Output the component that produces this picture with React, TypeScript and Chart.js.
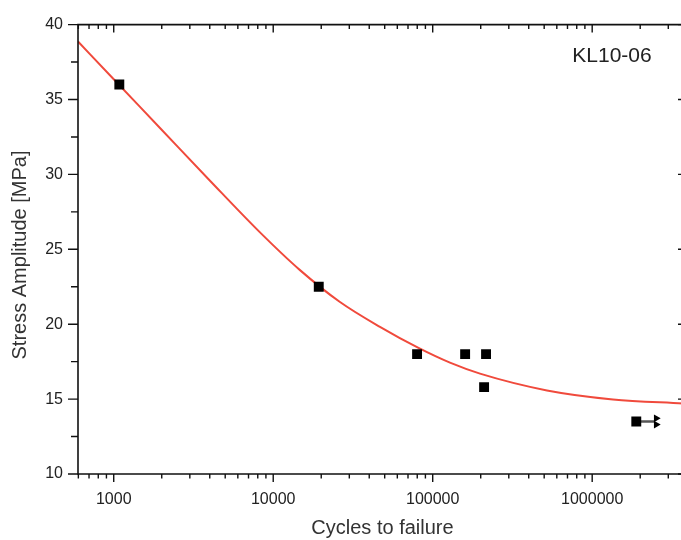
import React, { useEffect, useRef } from "react";
import { Chart, registerables } from "chart.js";

Chart.register(...registerables);

// Failure data (cycles, stress amplitude MPa)
const failureCycles = [1084, 19300, 79800, 159700, 216000, 210000, 1890000];
const failureStress = [36.0, 22.5, 18.0, 18.0, 18.0, 15.8, 13.5];

// Run-out markers
const runoutCycles = [2520000, 2520000];
const runoutStress = [13.72, 13.3];
const runoutLinkCycles = [1890000, 2450000];
const runoutLinkStress = [13.5, 13.5];

// Fitted curve samples
const curveCycles = [597, 1000, 1950, 4014, 8262, 14720, 26220, 46700, 80870, 128300, 197900, 520500, 1350000, 3710000];
const curveStress = [38.87, 36.35, 33.1, 29.58, 26.13, 23.61, 21.48, 19.82, 18.43, 17.43, 16.7, 15.58, 14.98, 14.71];

const xTickValues = [1000, 10000, 100000, 1000000];
const yTickValues = [10, 15, 20, 25, 30, 35, 40];

const xMin = 597;
const xMax = 3710000;
const yMin = 10;
const yMax = 40;

const specimenLabel = "KL10-06";
const xTitle = "Cycles to failure";
const yTitle = "Stress Amplitude [MPa]";

const FONT = "'Liberation Sans', Arial, sans-serif";

const framePlugin = {
  id: "frame",
  afterDraw(chart: any) {
    const ctx = chart.ctx;
    const { left, right, top, bottom } = chart.chartArea;
    const xs = chart.scales.x;
    const ys = chart.scales.y;
    ctx.save();
    ctx.strokeStyle = "#111";
    ctx.lineWidth = 1.6;
    ctx.beginPath();
    ctx.rect(left, top, right - left, bottom - top);
    ctx.stroke();

    ctx.lineWidth = 1.4;
    ctx.beginPath();
    for (let e = 2; e <= 7; e++) {
      for (let m = 1; m <= 9; m++) {
        const v = m * Math.pow(10, e);
        if (v < xMin || v > xMax) continue;
        const px = xs.getPixelForValue(v);
        const len = m === 1 ? 8 : 4.5;
        ctx.moveTo(px, bottom);
        ctx.lineTo(px, bottom + len);
        ctx.moveTo(px, top);
        ctx.lineTo(px, top + len);
      }
    }
    for (let v = yMin; v <= yMax; v += 2.5) {
      const py = ys.getPixelForValue(v);
      const major = Math.abs(v % 5) < 1e-6;
      ctx.moveTo(left, py);
      ctx.lineTo(left - (major ? 10 : 7), py);
      if (major) {
        ctx.moveTo(right, py);
        ctx.lineTo(right - 5, py);
      }
    }
    ctx.stroke();

    ctx.fillStyle = "#222";
    ctx.font = `21px ${FONT}`;
    ctx.textAlign = "center";
    ctx.textBaseline = "middle";
    ctx.fillText(specimenLabel, 612, 56);

    ctx.font = `20px ${FONT}`;
    ctx.fillStyle = "#333";
    ctx.fillText(xTitle, (left + right) / 2 + 2, 528);
    ctx.save();
    ctx.translate(20, 255);
    ctx.rotate(-Math.PI / 2);
    ctx.fillText(yTitle, 0, 0);
    ctx.restore();
    ctx.restore();
  },
};

export default function App() {
  const ref = useRef<HTMLCanvasElement | null>(null);
  useEffect(() => {
    if (!ref.current) return;
    const chart = new Chart(ref.current, {
      type: "scatter",
      data: {
        datasets: [
          {
            type: "line",
            label: "fit",
            data: curveCycles.map((x, i) => ({ x, y: curveStress[i] })),
            borderColor: "#f04a3c",
            borderWidth: 2,
            pointRadius: 0,
            cubicInterpolationMode: "monotone",
            fill: false,
            order: 3,
          } as any,
          {
            type: "line",
            label: "link",
            data: runoutLinkCycles.map((x, i) => ({ x, y: runoutLinkStress[i] })),
            borderColor: "#555",
            borderWidth: 2.5,
            pointRadius: 0,
            order: 2,
          } as any,
          {
            label: "failure",
            data: failureCycles.map((x, i) => ({ x, y: failureStress[i] })),
            pointStyle: "rect",
            pointRadius: 7,
            backgroundColor: "#000",
            borderColor: "#000",
            borderWidth: 0,
            order: 1,
          },
          {
            label: "runout",
            data: runoutCycles.map((x, i) => ({ x, y: runoutStress[i] })),
            pointStyle: "triangle",
            rotation: 90,
            pointRadius: 4.5,
            backgroundColor: "#000",
            borderColor: "#000",
            borderWidth: 0,
            order: 1,
          } as any,
        ],
      },
      options: {
        animation: false,
        responsive: false,
        maintainAspectRatio: false,
        layout: { padding: { left: 0, top: 22, right: 7, bottom: 0 } },
        plugins: {
          legend: { display: false },
          tooltip: { enabled: false },
        },
        scales: {
          x: {
            type: "logarithmic",
            min: xMin,
            max: xMax,
            grid: { display: false, drawTicks: false },
            border: { display: false },
            afterBuildTicks: (scale: any) => {
              scale.ticks = xTickValues.map((v) => ({ value: v, major: true }));
            },
            afterFit: (scale: any) => {
              scale.height = 66;
            },
            ticks: {
              autoSkip: false,
              maxRotation: 0,
              padding: 16,
              color: "#222",
              font: { family: FONT, size: 16 },
              callback: (v: any) => String(v),
            },
          },
          y: {
            type: "linear",
            min: yMin,
            max: yMax,
            grid: { display: false, drawTicks: false },
            border: { display: false },
            afterBuildTicks: (scale: any) => {
              scale.ticks = yTickValues.map((v) => ({ value: v }));
            },
            afterFit: (scale: any) => {
              scale.width = 78;
            },
            ticks: {
              padding: 15,
              color: "#222",
              font: { family: FONT, size: 16 },
              callback: (v: any) => String(v),
            },
          },
        },
      },
      plugins: [framePlugin],
    });
    return () => chart.destroy();
  }, []);

  return (
    <div
      style={{
        position: "fixed",
        left: 0,
        top: 0,
        width: 681,
        height: 540,
        overflow: "hidden",
        background: "#fff",
      }}
    >
      <canvas ref={ref} width={690} height={540} style={{ display: "block" }} />
    </div>
  );
}
